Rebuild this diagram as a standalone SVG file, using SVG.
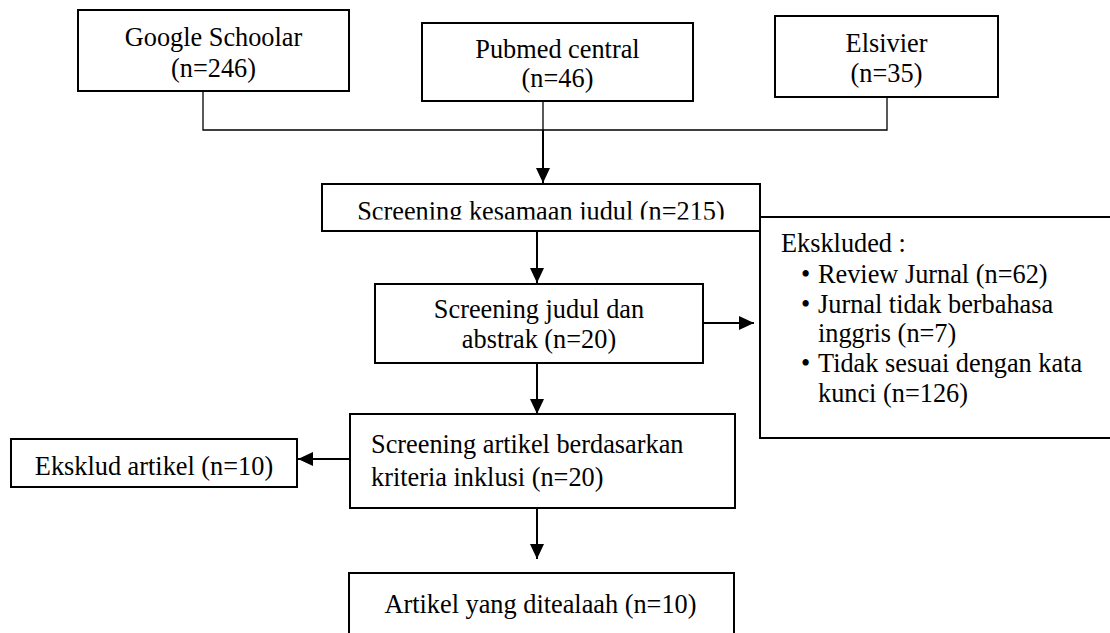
<svg xmlns="http://www.w3.org/2000/svg" width="1110" height="633" viewBox="0 0 1110 633">
<style>
  .box { fill: #fff; stroke: #000; stroke-width: 2; }
  .t { font-family: 'Liberation Serif', 'DejaVu Serif', serif; font-size: 26.3px; fill: #000; }
  .c { text-anchor: middle; }
  .thin { fill: none; stroke: #000; stroke-width: 1.3; }
  .arr { fill: none; stroke: #000; stroke-width: 2; marker-end: url(#ah); }
</style>
<defs>
  <marker id="ah" viewBox="0 0 15 14" markerUnits="userSpaceOnUse" markerWidth="15" markerHeight="14" refX="15" refY="7" orient="auto">
    <path d="M0,0 L15,7 L0,14 z" fill="#000"/>
  </marker>
  <clipPath id="clipK"><rect x="322" y="184" width="438" height="35.5"/></clipPath>
</defs>
<rect width="1110" height="633" fill="#fff"/>

<g id="connectors">
  <path class="thin" d="M203,91 V130 H887 V97"/>
  <path class="thin" d="M543,101 V130"/>
  <path class="arr" d="M543,130 V183"/>
  <path class="arr" d="M537,231 V283"/>
  <path class="arr" d="M703,323 H754"/>
  <path class="arr" d="M537,363 V414"/>
  <path class="arr" d="M350,459 H298"/>
  <path class="arr" d="M537,508 V559"/>
</g>

<g font-family="Liberation Serif, DejaVu Serif, serif">
<g id="google">
  <rect class="box" x="78" y="10" width="271" height="81"/>
  <text class="t c" x="213.5" y="46">Google Schoolar</text>
  <text class="t c" x="213.5" y="77">(n=246)</text>
</g>
<g id="pubmed">
  <rect class="box" x="422" y="23" width="271" height="78"/>
  <text class="t c" x="557.5" y="58">Pubmed central</text>
  <text class="t c" x="557.5" y="87">(n=46)</text>
</g>
<g id="elsivier">
  <rect class="box" x="775" y="16" width="223" height="81"/>
  <text class="t c" x="886.5" y="52">Elsivier</text>
  <text class="t c" x="886.5" y="82">(n=35)</text>
</g>
<g id="kesamaan">
  <rect class="box" x="322" y="184" width="438" height="47"/>
  <text class="t c" x="541" y="220" clip-path="url(#clipK)">Screening kesamaan judul (n=215)</text>
</g>
<g id="ekskluded">
  <rect class="box" x="760" y="217" width="360" height="221"/>
  <text class="t" x="781" y="252">Ekskluded :</text>
  <text class="t" x="801" y="283">•</text>
  <text class="t" x="818" y="283">Review Jurnal (n=62)</text>
  <text class="t" x="801" y="313">•</text>
  <text class="t" x="818" y="313">Jurnal tidak berbahasa</text>
  <text class="t" x="818" y="342">inggris (n=7)</text>
  <text class="t" x="801" y="372">•</text>
  <text class="t" x="818" y="372">Tidak sesuai dengan kata</text>
  <text class="t" x="818" y="402">kunci (n=126)</text>
</g>
<g id="judul">
  <rect class="box" x="375" y="284" width="328" height="79"/>
  <text class="t c" x="539" y="318">Screening judul dan</text>
  <text class="t c" x="539" y="348">abstrak (n=20)</text>
</g>
<g id="kriteria">
  <rect class="box" x="350" y="414" width="385" height="94"/>
  <text class="t" x="371" y="453">Screening artikel berdasarkan</text>
  <text class="t" x="371" y="486">kriteria inklusi (n=20)</text>
</g>
<g id="eksklud">
  <rect class="box" x="11" y="439" width="286" height="48"/>
  <text class="t c" x="154" y="475">Eksklud artikel (n=10)</text>
</g>
<g id="final">
  <rect class="box" x="349" y="573" width="385" height="80"/>
  <text class="t c" x="540.5" y="613">Artikel yang ditealaah (n=10)</text>
</g>
</g>
</svg>
